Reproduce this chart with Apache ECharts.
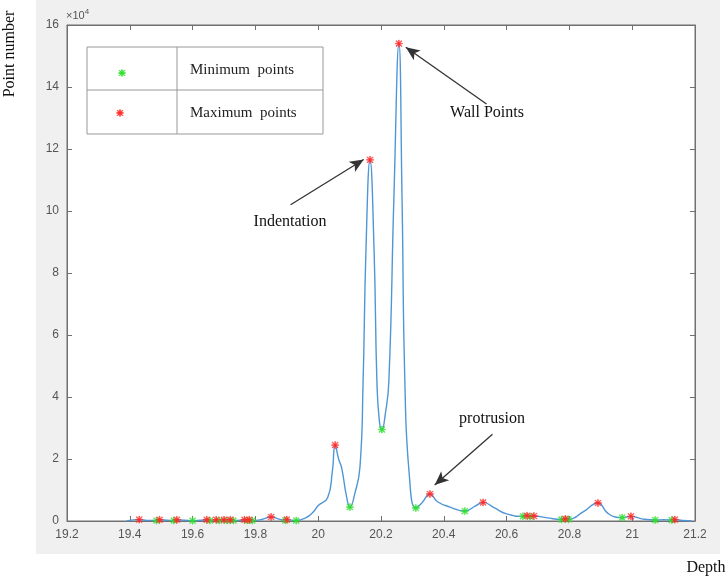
<!DOCTYPE html>
<html>
<head>
<meta charset="utf-8">
<script src="https://cdn.jsdelivr.net/npm/echarts@6/dist/echarts.min.js"></script>
<style>html,body{margin:0;padding:0;background:#fff;}#c{width:726px;height:579px;}</style>
</head>
<body>
<div id="c"></div>
<script>
// Curve: depth vs point number
var depth = [19.39,19.43,19.455,19.485,19.495,19.52,19.54,19.55,19.575,19.60,19.625,19.645,19.655,19.675,19.685,19.70,19.71,19.72,19.73,19.75,19.765,19.775,19.78,19.79,19.82,19.85,19.875,19.895,19.90,19.93,19.96,19.985,20.00,20.03,20.045,20.054,20.065,20.075,20.09,20.101,20.117,20.133,20.143,20.152,20.165,20.178,20.187,20.195,20.203,20.213,20.225,20.241,20.257,20.267,20.276,20.29,20.311,20.33,20.356,20.38,20.42,20.467,20.50,20.525,20.56,20.60,20.652,20.665,20.675,20.687,20.73,20.775,20.787,20.797,20.845,20.891,20.92,20.945,20.968,20.996,21.03,21.073,21.10,21.126,21.136,21.16,21.19];
var counts = [0,450,200,150,400,250,150,400,250,100,250,400,150,400,150,400,150,400,150,250,400,150,400,150,500,1300,600,200,450,150,1000,3000,5000,7500,16000,24500,20000,17000,8000,4500,9000,17400,45000,87000,116500,87000,45000,32000,29500,34000,45000,104000,154000,104000,45000,15000,4200,5800,8700,6200,4500,3200,4800,6000,4300,2300,1500,1700,1400,1600,1000,500,700,500,3000,5800,2700,1300,1100,1500,700,300,400,300,450,150,0];

// Maximum points (red)
var maxDepth = [19.43,19.495,19.55,19.645,19.675,19.70,19.72,19.765,19.78,19.85,19.90,20.054,20.165,20.257,20.356,20.525,20.665,20.687,20.787,20.891,20.996,21.136];
var maxCount = [450,400,400,400,400,400,400,400,400,1300,450,24500,116500,154000,8700,6000,1700,1600,700,5800,1500,450];

// Minimum points (green)
var minDepth = [19.485,19.54,19.60,19.655,19.685,19.71,19.73,19.775,19.79,19.895,19.93,20.101,20.203,20.311,20.467,20.652,20.675,20.775,20.797,20.968,21.073,21.126];
var minCount = [150,150,100,150,150,150,150,150,150,200,150,4500,29500,4200,3200,1500,1400,500,500,1100,300,300];

// Axis ticks
var xTicks = [19.2,19.4,19.6,19.8,20,20.2,20.4,20.6,20.8,21,21.2];
var yTickLabels = ['0','2','4','6','8','10','12','14','16'];

// Annotations: label, arrow tail and tip in data units
var annoLabels = ['Wall Points','Indentation','protrusion'];
var annoTail = [[20.536,134500],[19.912,102000],[20.555,28000]];
var annoTip = [[20.279,152800],[20.145,116600],[20.371,11600]];

function zip(a,b){return a.map(function(v,i){return [v,b[i]];});}

var star = 'path://M4.4,0h1.2v10h-1.2z M0,4.4h10v1.2h-10z M1.4,0.6l8,8l-0.8,0.8l-8,-8z M8.6,0.6l0.8,0.8l-8,8l-0.8,-0.8z';
var serif = '"Liberation Serif", "Times New Roman", serif';
var sans = '"Liberation Sans", Arial, sans-serif';

var chart = echarts.init(document.getElementById('c'), null, {renderer:'canvas'});

var arrowData = annoTail.map(function(t,i){
  return [{coord:t, symbol:'none'},{coord:annoTip[i], symbol:'arrow', symbolSize:[9,14]}];
});

var axisCol = '#707070';
function axisCommon(extra){
  var o = {
    axisLine:{show:true, onZero:false, lineStyle:{color:axisCol}},
    axisTick:{show:true, inside:true, length:5, lineStyle:{color:axisCol}},
    splitLine:{show:false}
  };
  for (var k in extra) o[k]=extra[k];
  return o;
}

var option = {
  backgroundColor:'#ffffff',
  animation:false,
  grid:{left:67, top:25, right:31, bottom:58, show:true, backgroundColor:'#ffffff', borderColor:axisCol, borderWidth:1},
  xAxis:[axisCommon({
    type:'value', min:19.2, max:21.2, interval:0.2, position:'bottom',
    axisLabel:{color:'#555', fontFamily:sans, fontSize:12, margin:8,
      formatter:function(v){var r=Math.round(v*10)/10; return xTicks.indexOf(r)>=0? String(r):'';}}
  }), axisCommon({
    type:'value', min:19.2, max:21.2, interval:0.2, position:'top', axisLabel:{show:false}
  })],
  yAxis:[axisCommon({
    type:'value', min:0, max:160000, interval:20000, position:'left',
    axisLabel:{color:'#555', fontFamily:sans, fontSize:12, margin:8,
      formatter:function(v){return yTickLabels[Math.round(v/20000)];}}
  }), axisCommon({
    type:'value', min:0, max:160000, interval:20000, position:'right', axisLabel:{show:false}
  })],
  series:[{
    name:'curve', type:'line', data:zip(depth,counts), smooth:0.5,
    showSymbol:false, symbol:'none', lineStyle:{color:'#5096d6', width:1.4}, z:2,
    markLine:{silent:true, animation:false, label:{show:false},
      lineStyle:{color:'#333', width:1.3, type:'solid'}, symbol:['none','arrow'],
      emphasis:{disabled:true}, data:arrowData}
  },{
    name:'Minimum points', type:'scatter', data:zip(minDepth,minCount), symbol:star, symbolSize:7,
    itemStyle:{color:'#2ee02e', borderColor:'#2ee02e', borderWidth:0.6}, z:3
  },{
    name:'Maximum points', type:'scatter', data:zip(maxDepth,maxCount), symbol:star, symbolSize:7,
    itemStyle:{color:'#ff2a2a', borderColor:'#ff2a2a', borderWidth:0.6}, z:4
  }],
  graphic:[
    {type:'rect', z:-100, silent:true, shape:{x:36, y:0, width:684, height:554}, style:{fill:'#f0f0f0'}},
    {type:'text', z:100, left:66, top:8, style:{text:'{a|×10}{b|4}', rich:{a:{fontSize:11, fontFamily:sans, fill:'#555'}, b:{fontSize:8, fontFamily:sans, fill:'#555', verticalAlign:'top', padding:[0,0,7,0]}}}},
    {type:'text', z:100, x:10, y:54, rotation:Math.PI/2, style:{text:'Point number', font:'16px '+serif, fill:'#111', textAlign:'center', textVerticalAlign:'middle'}},
    {type:'text', z:100, x:706, y:568, style:{text:'Depth', font:'16px '+serif, fill:'#111', textAlign:'center', textVerticalAlign:'middle'}},
    {type:'rect', z:100, shape:{x:87, y:47, width:236, height:87}, style:{fill:'#fff', stroke:'#999', lineWidth:1}},
    {type:'line', z:101, shape:{x1:177, y1:47, x2:177, y2:134}, style:{stroke:'#999', lineWidth:1}},
    {type:'line', z:101, shape:{x1:87, y1:90, x2:323, y2:90}, style:{stroke:'#999', lineWidth:1}},
    {type:'text', z:101, x:190, y:70, style:{text:'Minimum  points', font:'15px '+serif, fill:'#222', textVerticalAlign:'middle'}},
    {type:'text', z:101, x:190, y:113, style:{text:'Maximum  points', font:'15px '+serif, fill:'#222', textVerticalAlign:'middle'}},
    {type:'text', z:100, x:487, y:113, style:{text:annoLabels[0], font:'16px '+serif, fill:'#111', textAlign:'center', textVerticalAlign:'middle'}},
    {type:'text', z:100, x:290, y:222, style:{text:annoLabels[1], font:'16px '+serif, fill:'#111', textAlign:'center', textVerticalAlign:'middle'}},
    {type:'text', z:100, x:492, y:419, style:{text:annoLabels[2], font:'16px '+serif, fill:'#111', textAlign:'center', textVerticalAlign:'middle'}}
  ]
};
chart.setOption(option);

// legend sample markers
var zr = chart.getZr();
[['#2ee02e',122,73],['#ff2a2a',120,113]].forEach(function(s){
  var sym = echarts.graphic.makePath(star.replace('path://',''), {style:{fill:s[0], stroke:s[0], lineWidth:0.6}}, {x:s[1]-3.5, y:s[2]-3.5, width:7, height:7}, 'center');
  sym.z = 200; zr.add(sym);
});
</script>
</body>
</html>
